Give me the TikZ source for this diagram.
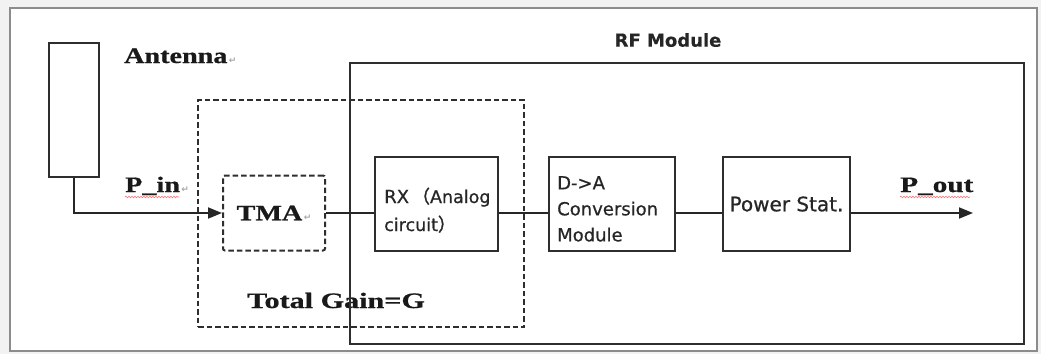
\documentclass[tikz,border=0pt]{standalone}
\usepackage{fontspec}
\usepackage{graphicx}
\setmainfont{Liberation Serif}[BoldFeatures={FakeBold=0.6}]
\newfontfamily\boxfont{DejaVu Sans}[FakeBold=0.7, BoldFeatures={FakeBold=0.3}]
\newfontfamily\cjkfont{Noto Sans CJK SC}[FakeBold=1.5]
\newfontfamily\symfont{DejaVu Sans}
\usetikzlibrary{arrows.meta,decorations.pathmorphing}
% wide bold serif labels
\newcommand\widetext[1]{\scalebox{1.28}[1]{#1}}
% paragraph return mark
\newcommand\retmark{{\symfont\fontsize{9}{9}\selectfont\color{gray!70}\,↵}}

\begin{document}
\begin{tikzpicture}[x=1pt,y=-1pt,
  blk/.style={draw=black!82, line width=1.8pt, inner sep=0pt},
  dashbox/.style={draw=black!82, line width=2pt, dash pattern=on 5.5pt off 3pt, inner sep=0pt},
  serif/.style={font=\fontsize{22}{24}\selectfont\bfseries, text=black!90, inner sep=0pt},
  sans/.style={font=\boxfont\fontsize{18}{26}\selectfont, text=black!85, inner sep=0pt},
  sig/.style={draw=black!85, line width=1.8pt},
  tip/.style={-{Triangle[length=14pt,width=11pt]}},
  squiggle/.style={draw=red!55, line width=0.6pt, decorate,
    decoration={snake, amplitude=0.8pt, segment length=3pt}}
]
\useasboundingbox (0,0) rectangle (1041,354);
% page background and frame
\fill[gray!10] (0,0) rectangle (1041,354);
\draw[draw=black!45, line width=1.5pt, fill=white] (10,8) rectangle (1037,351);

% antenna
\node[blk, minimum width=50pt, minimum height=134pt] (ant) at (74,110) {};
\node[serif, anchor=base west] (antlbl) at (124,63) {\widetext{Antenna}\retmark};

% total gain region
\node[dashbox, minimum width=326pt, minimum height=227pt] (gain) at (361,213.5) {};
\node[serif, anchor=base west] (gainlbl) at (247,308) {\scalebox{1.37}[1]{Total Gain=G}};

% RF module
\node[blk, minimum width=674pt, minimum height=281pt] (rf) at (687,203.5) {};
\node[font=\boxfont\fontsize{18}{20}\selectfont\bfseries, text=black!85, inner sep=0pt] (rflbl) at (668,40) {RF Module};

% TMA
\node[dashbox, rounded corners=2pt, minimum width=102pt, minimum height=75pt, serif] (tma) at (274,213) {\widetext{TMA}\retmark};

% RX
\node[blk, minimum width=123pt, minimum height=94pt] (rx) at (436.5,204) {};
\node[sans, anchor=base west] (rxa) at (384,203) {RX\,{\cjkfont （}{\fontsize{17.5}{18}\selectfont Analog}};
\node[sans, anchor=base west] (rxb) at (384,231) {{\fontsize{17.5}{18}\selectfont circuit}{\cjkfont ）}};

% D->A
\node[blk, minimum width=126pt, minimum height=94pt] (da) at (612,204) {};
\node[sans, anchor=north west, align=left] (datxt) at (557,176) {D->A\\Conversion\\Module};

% power stage
\node[blk, minimum width=127pt, minimum height=94pt, sans, font=\boxfont\fontsize{20}{22}\selectfont] (pw) at (786.5,204) {Power Stat.};

% signal labels
\node[serif, anchor=base west] (pin) at (125,192) {\widetext{P\_in}\retmark};
\node[serif, anchor=base west] (pout) at (900,192) {\scalebox{1.33}[1]{P\_out}};
\coordinate (outend) at (973,213);

% signal chain
\draw[sig, tip] (ant.south) |- (tma.west);
\draw[sig] (tma.east) -- (tma.east -| rx.west);
\draw[sig] (rx.east |- tma.east) -- (da.west |- tma.east);
\draw[sig] (da.east |- tma.east) -- (pw.west |- tma.east);
\draw[sig, tip] (pw.east |- outend) -- (outend);

% spelling marks
\draw[squiggle] ([yshift=-5pt]pin.base west) -- ++(54,0);
\draw[squiggle] ([yshift=-5pt]pout.base west) -- ++(70,0);
\end{tikzpicture}
\end{document}
